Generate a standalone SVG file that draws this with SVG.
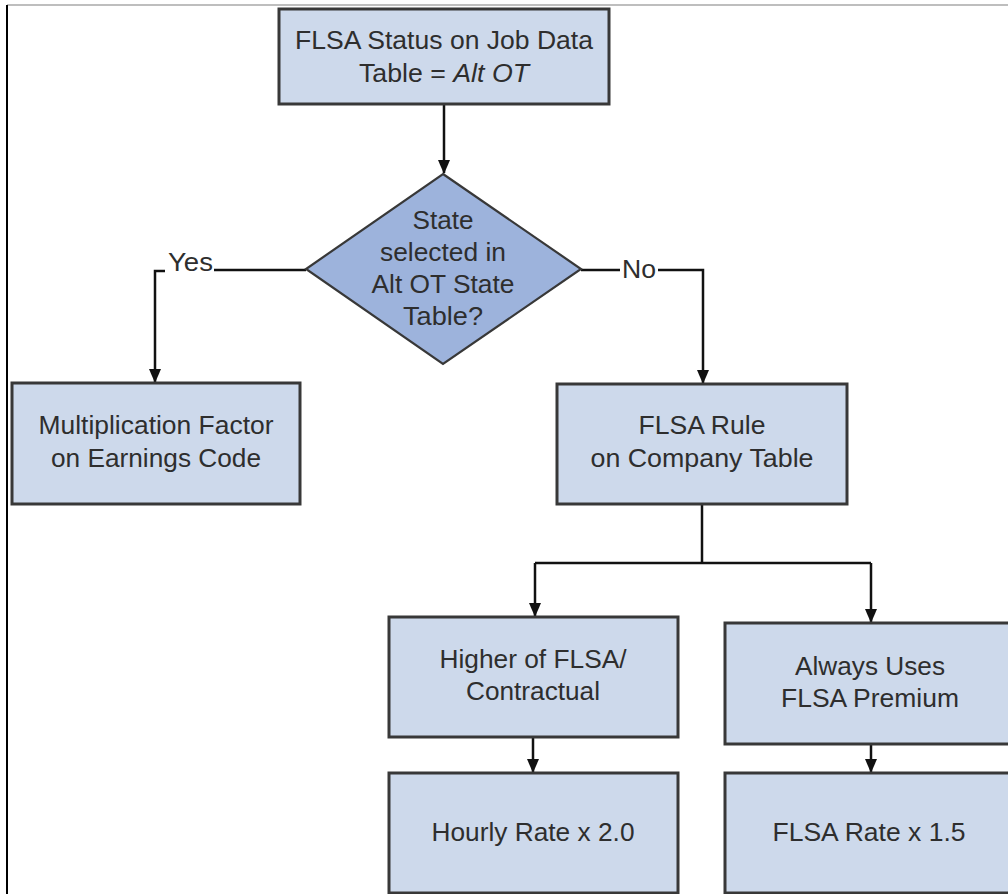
<svg xmlns="http://www.w3.org/2000/svg" width="1008" height="894" viewBox="0 0 1008 894">
  <style>
    .box { fill: #cdd9eb; stroke: #383838; stroke-width: 3; }
    .dia { fill: #9db3dc; stroke: #383838; stroke-width: 2.2; }
    .t { font-family: "Liberation Sans", Arial, sans-serif; font-size: 25px; fill: #2e2e2e; text-anchor: middle; }
    .lbl { font-family: "Liberation Sans", Arial, sans-serif; font-size: 25px; fill: #2e2e2e; }
    .c { fill: none; stroke: #111; stroke-width: 2.5; }
  </style>
  <defs>
    <marker id="arr" markerUnits="userSpaceOnUse" markerWidth="14" markerHeight="14" refX="13" refY="6" orient="auto" viewBox="0 0 14 12">
      <path d="M0,0 L14,6 L0,12 Z" fill="#111"/>
    </marker>
  </defs>

  <rect width="1008" height="894" fill="#ffffff"/>
  <g id="frame">
    <line x1="7" y1="5" x2="1008" y2="5" stroke="#a8a8a8" stroke-width="1.5"/>
    <line x1="7" y1="5" x2="7" y2="894" stroke="#000" stroke-width="2"/>
  </g>

  <g id="connectors">
    <path class="c" d="M444,104 V173" marker-end="url(#arr)"/>
    <path class="c" d="M306,270 H214"/>
    <path class="c" d="M165,271 H155 V382" marker-end="url(#arr)"/>
    <path class="c" d="M581,270 H620"/>
    <path class="c" d="M658,270 H703 V383" marker-end="url(#arr)"/>
    <path class="c" d="M702,504 V563"/>
    <path class="c" d="M535,563 H871"/>
    <path class="c" d="M535,563 V616" marker-end="url(#arr)"/>
    <path class="c" d="M871,563 V622" marker-end="url(#arr)"/>
    <path class="c" d="M533,737 V772" marker-end="url(#arr)"/>
    <path class="c" d="M871,744 V772" marker-end="url(#arr)"/>
    <text class="lbl" x="168" y="271" textLength="45" lengthAdjust="spacingAndGlyphs">Yes</text>
    <text class="lbl" x="622" y="278" textLength="34" lengthAdjust="spacingAndGlyphs">No</text>
  </g>

  <g id="start">
    <rect class="box" x="279" y="9" width="330" height="95"/>
    <text class="t" x="444" y="49" textLength="298" lengthAdjust="spacingAndGlyphs">FLSA Status on Job Data</text>
    <text class="t" x="444" y="82" textLength="170" lengthAdjust="spacingAndGlyphs">Table = <tspan font-style="italic">Alt OT</tspan></text>
  </g>

  <g id="decision">
    <polygon class="dia" points="443,174 581,269 443,364 306,269"/>
    <text class="t" x="443" y="229" textLength="61" lengthAdjust="spacingAndGlyphs">State</text>
    <text class="t" x="443" y="261" textLength="126" lengthAdjust="spacingAndGlyphs">selected in</text>
    <text class="t" x="443" y="293" textLength="143" lengthAdjust="spacingAndGlyphs">Alt OT State</text>
    <text class="t" x="443" y="325" textLength="80" lengthAdjust="spacingAndGlyphs">Table?</text>
  </g>

  <g id="multfactor">
    <rect class="box" x="12" y="383" width="288" height="121"/>
    <text class="t" x="156" y="434" textLength="235" lengthAdjust="spacingAndGlyphs">Multiplication Factor</text>
    <text class="t" x="156" y="467" textLength="210" lengthAdjust="spacingAndGlyphs">on Earnings Code</text>
  </g>

  <g id="flsarule">
    <rect class="box" x="557" y="384" width="290" height="120"/>
    <text class="t" x="702" y="434" textLength="127" lengthAdjust="spacingAndGlyphs">FLSA Rule</text>
    <text class="t" x="702" y="467" textLength="223" lengthAdjust="spacingAndGlyphs">on Company Table</text>
  </g>

  <g id="higher">
    <rect class="box" x="389" y="617" width="289" height="120"/>
    <text class="t" x="533" y="668" textLength="187" lengthAdjust="spacingAndGlyphs">Higher of FLSA/</text>
    <text class="t" x="533" y="700" textLength="134" lengthAdjust="spacingAndGlyphs">Contractual</text>
  </g>

  <g id="always">
    <rect class="box" x="725" y="623" width="292" height="121"/>
    <text class="t" x="870" y="675" textLength="150" lengthAdjust="spacingAndGlyphs">Always Uses</text>
    <text class="t" x="870" y="707" textLength="178" lengthAdjust="spacingAndGlyphs">FLSA Premium</text>
  </g>

  <g id="hourly">
    <rect class="box" x="389" y="773" width="289" height="120"/>
    <text class="t" x="533" y="841" textLength="203" lengthAdjust="spacingAndGlyphs">Hourly Rate x 2.0</text>
  </g>

  <g id="flsarate">
    <rect class="box" x="725" y="773" width="292" height="120"/>
    <text class="t" x="869" y="841" textLength="193" lengthAdjust="spacingAndGlyphs">FLSA Rate x 1.5</text>
  </g>
</svg>
